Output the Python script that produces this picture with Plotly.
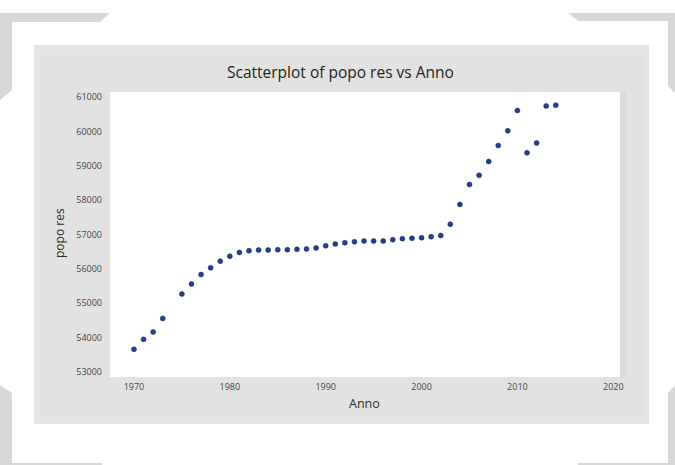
import plotly.graph_objects as go

# Resident population by year
anno = [1970, 1971, 1972, 1973, 1975, 1976, 1977, 1978, 1979, 1980,
        1981, 1982, 1983, 1984, 1985, 1986, 1987, 1988, 1989, 1990,
        1991, 1992, 1993, 1994, 1995, 1996, 1997, 1998, 1999, 2000,
        2001, 2002, 2003, 2004, 2005, 2006, 2007, 2008, 2009, 2010,
        2011, 2012, 2013, 2014]
popo_res = [53660, 53950, 54165, 54560, 55270, 55560, 55835, 56030, 56225, 56370,
            56480, 56530, 56550, 56550, 56560, 56560, 56570, 56580, 56610, 56670,
            56725, 56760, 56790, 56810, 56810, 56810, 56850, 56880, 56890, 56905,
            56935, 56970, 57300, 57875, 58455, 58720, 59125, 59590, 60015, 60605,
            59375, 59665, 60740, 60760]

x_ticks = [1970, 1980, 1990, 2000, 2010, 2020]
y_ticks = [53000, 54000, 55000, 56000, 57000, 58000, 59000, 60000, 61000]
y_tick_labels = [str(v) for v in y_ticks]

W, H = 675, 465
L, R, T, B = 110, 620, 92, 377  # plot area in pixels


def px(x):
    return (x - L) / (R - L)


def py(y):
    return (B - y) / (B - T)


def poly(points):
    return "M " + " L ".join(f"{px(a):.5f},{py(b):.5f}" for a, b in points) + " Z"


def rect(x0, y0, x1, y1, fill):
    return dict(type="rect", xref="paper", yref="paper",
                x0=px(x0), x1=px(x1), y0=py(y1), y1=py(y0),
                fillcolor=fill, line=dict(width=0), layer="below")


def piece(points, fill):
    return dict(type="path", xref="paper", yref="paper", layer="below",
                fillcolor=fill, line=dict(width=0), path=poly(points))


bracket = "#d8d8d8"
shapes = [
    # graph panel
    rect(34, 45, 649, 424, "#e4e4e4"),
    rect(40, 50, 643, 419, "#e2e2e2"),
    rect(620, 92, 626, 377, "#dadada"),
    # data region
    rect(L, T, R, B, "#ffffff"),
    # corner brackets
    piece([(0, 13), (110, 13), (100, 22), (12, 22), (12, 90), (0, 100)], bracket),
    piece([(568, 13), (675, 13), (675, 93), (668, 86), (668, 21), (578, 21)], bracket),
    piece([(0, 385), (12, 393), (12, 463), (102, 463), (102, 465), (0, 465)], bracket),
    piece([(668, 393), (675, 385), (675, 465), (578, 465), (578, 463), (668, 463)], bracket),
]

fig = go.Figure(go.Scatter(
    x=anno, y=popo_res, mode="markers",
    marker=dict(size=5, color="#22408a", line=dict(width=0.5, color="#14285e")),
    hoverinfo="x+y",
))

font = "Open Sans, Noto Sans, sans-serif"


def label(text, x, y, size, color="#2b2b2b", angle=0):
    return dict(text=text, xref="paper", yref="paper", x=px(x), y=py(y),
                xanchor="center", yanchor="middle", textangle=angle,
                showarrow=False, font=dict(size=size, color=color, family=font))


fig.update_layout(
    width=W, height=H,
    margin=dict(l=L, r=W - R, t=T, b=H - B),
    paper_bgcolor="white", plot_bgcolor="white",
    showlegend=False,
    shapes=shapes,
    font=dict(family=font, color="#444444"),
    annotations=[
        label("Scatterplot of popo res vs Anno", 340, 72, 15.5, "#222222"),
        label("popo res", 59, 233, 12, angle=-90),
        label("Anno", 364, 403, 12.5),
    ],
)
fig.update_xaxes(range=[1967.5, 2020.7], tickvals=x_ticks, showgrid=False,
                 zeroline=False, showline=False, ticks="",
                 tickfont=dict(size=9, color="#444444"), ticklabelstandoff=3)
fig.update_yaxes(range=[52855, 61145], tickvals=y_ticks, ticktext=y_tick_labels,
                 showgrid=False, zeroline=False, showline=False, ticks="",
                 tickfont=dict(size=9, color="#444444"), ticklabelstandoff=7)

fig.write_html("out.html")
